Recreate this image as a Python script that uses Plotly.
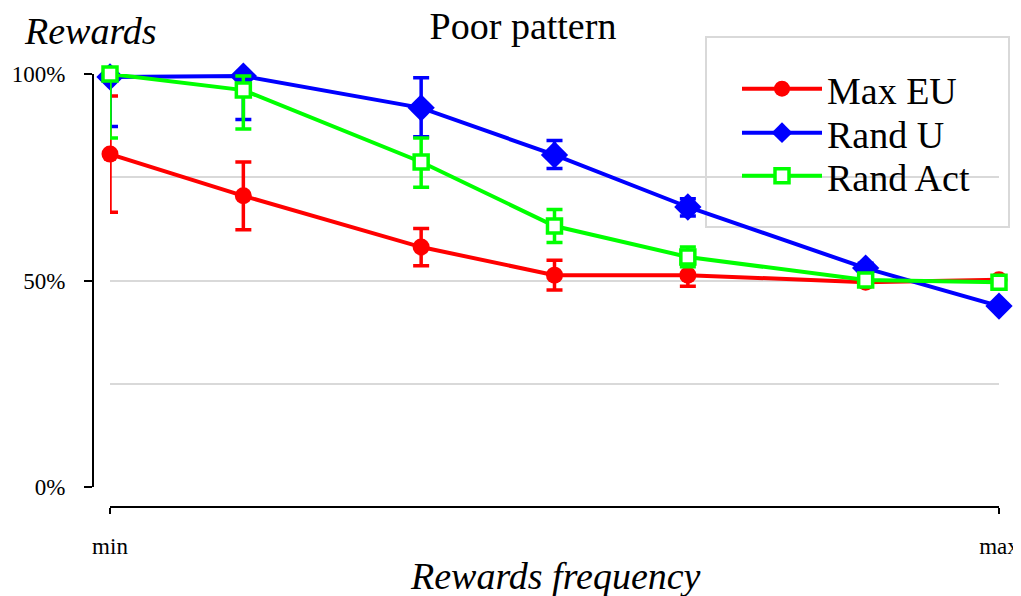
import plotly.graph_objects as go

# The page body has an 8px margin, so the figure is sized to fit the window
# and all layout positions below are given in window pixels, then shifted.
OFF = 8
W, H = 1021 - OFF, 596 - OFF

# ---- data ----
x_vals = [0, 0.15, 0.35, 0.5, 0.65, 0.85, 1.0]
x_tick_vals = [0, 1]
x_tick_text = ["min", "max"]
y_tick_vals = [0, 0.5, 1.0]

max_eu = [0.806, 0.705, 0.581, 0.513, 0.513, 0.496, 0.502]
max_eu_err = [0.141, 0.082, 0.045, 0.036, 0.027, 0.010, 0.005]

rand_u = [0.993, 0.995, 0.918, 0.804, 0.678, 0.530, 0.438]
rand_u_plus = [0.007, 0.005, 0.073, 0.035, 0.020, 0.012, 0.005]
rand_u_minus = [0.120, 0.105, 0.070, 0.033, 0.022, 0.012, 0.005]

rand_act = [1.0, 0.961, 0.787, 0.632, 0.557, 0.501, 0.496]
rand_act_plus = [0.0, 0.034, 0.058, 0.040, 0.024, 0.010, 0.005]
rand_act_minus = [0.155, 0.094, 0.061, 0.040, 0.024, 0.010, 0.005]

FONT = "Liberation Serif, Times New Roman, serif"
RED, BLUE, GREEN = "#ff0000", "#0000ff", "#00ff00"
GRID = "#d9d9d9"
BIG = 38
TICK = 23


def px_x(p):
    return (p - OFF) / W


def px_y(p):
    return 1 - (p - OFF) / H


fig = go.Figure()

fig.add_trace(go.Scatter(
    x=x_vals, y=max_eu, name="Max EU", mode="lines+markers", legend="legend",
    line=dict(color=RED, width=4),
    marker=dict(symbol="circle", size=17, color=RED),
    error_y=dict(type="data", array=max_eu_err, color=RED, thickness=3.5, width=8),
    cliponaxis=False,
))
fig.add_trace(go.Scatter(
    x=x_vals, y=rand_u, name="Rand U", mode="lines+markers", legend="legend2",
    line=dict(color=BLUE, width=4),
    marker=dict(symbol="diamond", size=21, color=BLUE),
    error_y=dict(type="data", symmetric=False, array=rand_u_plus,
                 arrayminus=rand_u_minus, color=BLUE, thickness=3.5, width=8),
    cliponaxis=False,
))
fig.add_trace(go.Scatter(
    x=x_vals, y=rand_act, name="Rand Act", mode="lines+markers", legend="legend3",
    line=dict(color=GREEN, width=4),
    marker=dict(symbol="square", size=14, color="white",
                line=dict(color=GREEN, width=3.5)),
    error_y=dict(type="data", symmetric=False, array=rand_act_plus,
                 arrayminus=rand_act_minus, color=GREEN, thickness=3.5, width=8),
    cliponaxis=False,
))


def legend_at(row_y):
    return dict(
        x=px_x(737), y=px_y(row_y), xanchor="left", yanchor="middle",
        bgcolor="rgba(0,0,0,0)", borderwidth=0,
        font=dict(family=FONT, size=BIG, color="black"),
        itemwidth=80, visible=True,
    )


fig.update_layout(
    width=W, height=H,
    margin=dict(l=0, r=0, t=0, b=0, autoexpand=False),
    paper_bgcolor="white", plot_bgcolor="white",
    font=dict(family=FONT, color="black"),
    showlegend=True,
    title=dict(text="Poor pattern", x=px_x(523), y=px_y(26),
               xanchor="center", yanchor="middle", automargin=False,
               font=dict(family=FONT, size=BIG, color="black")),
    xaxis=dict(
        domain=[px_x(110), px_x(999)], range=[0, 1],
        anchor="free", position=px_y(507), automargin=False,
        showgrid=False, zeroline=False,
        showline=True, linecolor="black", linewidth=2,
        ticks="outside", ticklen=6, tickwidth=2, tickcolor="black",
        tickvals=x_tick_vals, ticktext=x_tick_text,
        ticklabelstandoff=12, ticklabeloverflow="allow",
        tickfont=dict(family=FONT, size=TICK, color="black"),
    ),
    yaxis=dict(
        domain=[px_y(487), px_y(74)], range=[0, 1],
        anchor="free", position=px_x(93), automargin=False,
        showgrid=True, gridcolor=GRID, gridwidth=2, zeroline=False,
        showline=True, linecolor="black", linewidth=2,
        ticks="outside", ticklen=8, tickwidth=2, tickcolor="black",
        tickvals=y_tick_vals, tickformat=".0%",
        ticklabelstandoff=14,
        tickfont=dict(family=FONT, size=TICK, color="black"),
        minor=dict(dtick=0.25, showgrid=True, gridcolor=GRID, gridwidth=2, ticks=""),
    ),
    legend=legend_at(89),
    legend2=legend_at(133),
    legend3=legend_at(176),
    shapes=[dict(
        type="rect", xref="paper", yref="paper",
        x0=px_x(706), x1=px_x(1009), y0=px_y(227), y1=px_y(37),
        fillcolor="white", line=dict(color=GRID, width=2), layer="between",
    )],
    annotations=[
        dict(text="<i>Rewards</i>", xref="paper", yref="paper",
             x=px_x(22), y=px_y(31), xanchor="left", yanchor="middle",
             showarrow=False, font=dict(family=FONT, size=BIG, color="black")),
        dict(text="<i>Rewards frequency</i>", xref="paper", yref="paper",
             x=px_x(555), y=px_y(576), xanchor="center", yanchor="middle",
             showarrow=False, font=dict(family=FONT, size=BIG, color="black")),
    ],
)

fig.write_html("out.html")
